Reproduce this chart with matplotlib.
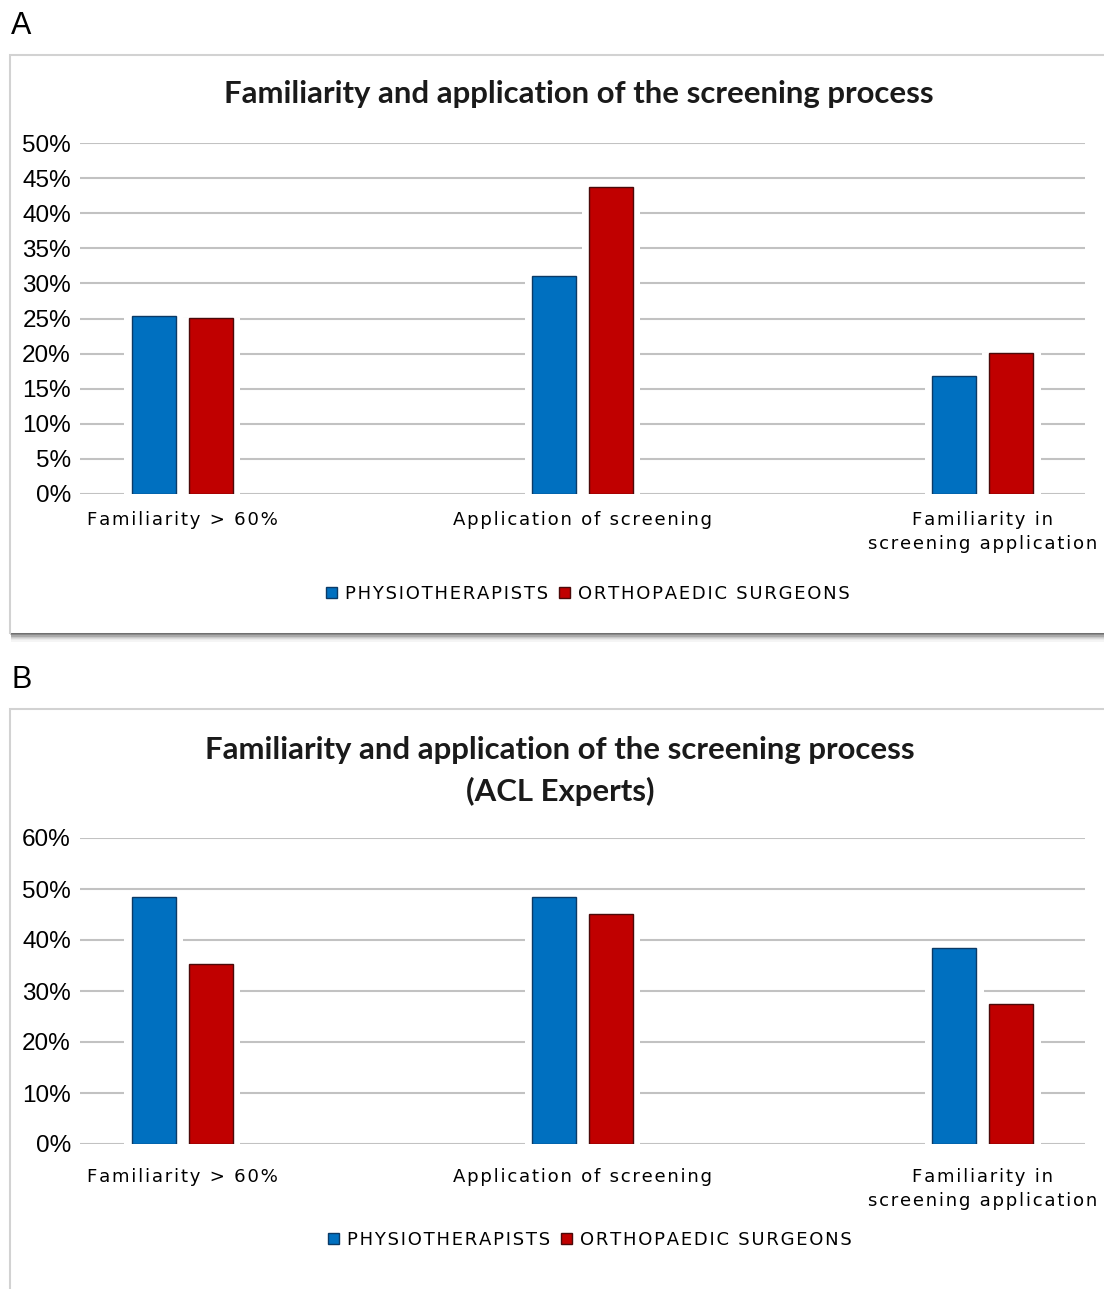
import matplotlib.pyplot as plt
from matplotlib.lines import Line2D
from matplotlib.patches import Rectangle, Patch

# valores lidos por grupo (percentual)
categorias = ["Familiarity > 60%", "Application of screening", "Familiarity in\nscreening application"]
series = ["PHYSIOTHERAPISTS", "ORTHOPAEDIC SURGEONS"]
fisio_a = [25.4, 31.0, 16.8]
orto_a = [25.1, 43.8, 20.1]
fisio_b = [48.4, 48.4, 38.4]
orto_b = [35.3, 45.1, 27.5]
ticks_a = [0, 5, 10, 15, 20, 25, 30, 35, 40, 45, 50]
ticks_b = [0, 10, 20, 30, 40, 50, 60]

titulo_a = "Familiarity and application of the screening process"
titulo_b = "Familiarity and application of the screening process\n(ACL Experts)"

W, H = 1104, 1289
AZUL, VERMELHO = "#0070c0", "#c00000"
BORDAS = ["#0b3a66", "#4a0a0a"]


def fx(px):
    return px / W


def fy(py):
    return 1 - py / H


def espacar(txt):
    # letras afastadas como no rótulo original
    return "\n".join("\u200a".join(linha) for linha in txt.split("\n"))


fig = plt.figure(figsize=(W / 100, H / 100), dpi=100)
fig.patch.set_facecolor("white")


def moldura(topo, base, sombra=True):
    fig.add_artist(Rectangle((fx(10), fy(base)), fx(1120) - fx(10), fy(topo) - fy(base),
                             transform=fig.transFigure, facecolor="none",
                             edgecolor="#d2d2d2", lw=1.5, zorder=0))
    if sombra:
        cores = ["#6e6e6e", "#8a8a8a", "#aaaaaa", "#c8c8c8", "#dcdcdc", "#ececec", "#f5f5f5"]
        for i, c in enumerate(cores):
            y = fy(base + i * 1.2)
            fig.add_artist(Line2D([fx(12), 1], [y, y], transform=fig.transFigure,
                                  color=c, lw=1.4, zorder=0))


def painel(topo_px, zero_px, ymax, ticks, fisio, orto, pad_x, leg_x, leg_y):
    ax = fig.add_axes([fx(80), fy(zero_px), fx(1085) - fx(80), fy(topo_px) - fy(zero_px)])
    x = list(range(len(categorias)))
    largura = 0.11
    desloc = 0.071
    for vals, d in ((fisio, -desloc), (orto, desloc)):
        ax.bar([i + d for i in x], vals, width=largura + 0.036, color="white", zorder=2)
    ax.bar([i - desloc for i in x], fisio, width=largura, color=AZUL,
           edgecolor=BORDAS[0], lw=1.0, zorder=3)
    ax.bar([i + desloc for i in x], orto, width=largura, color=VERMELHO,
           edgecolor=BORDAS[1], lw=1.0, zorder=3)
    ax.set_xlim(-0.255, 2.255)
    ax.set_ylim(0, ymax)
    ax.set_yticks(ticks)
    ax.set_yticklabels([f"{t}%" for t in ticks], fontfamily="Liberation Sans", fontsize=17.5)
    ax.set_xticks(x)
    ax.set_xticklabels([espacar(c) for c in categorias], fontsize=13.1, linespacing=1.38,
                       va="top")
    ax.tick_params(axis="y", length=0, pad=6.5)
    ax.tick_params(axis="x", length=0, pad=pad_x)
    for s in ax.spines.values():
        s.set_visible(False)
    ax.grid(axis="y", color="#c2c2c2", lw=1.5)
    ax.set_axisbelow(True)
    alcas = [Patch(facecolor=AZUL, edgecolor=BORDAS[0]), Patch(facecolor=VERMELHO, edgecolor=BORDAS[1])]
    ax.legend(alcas, [espacar(s) for s in series], loc="center",
              bbox_to_anchor=(fx(leg_x), fy(leg_y)), bbox_transform=fig.transFigure,
              ncol=2, frameon=False, fontsize=13, handlelength=0.6, handleheight=0.6,
              handletextpad=0.45, columnspacing=0.6)
    return ax


# painel A
moldura(55, 634)
fig.text(fx(11), fy(26), "A", fontfamily="Liberation Sans", fontsize=22, va="center", ha="left")
fig.text(fx(579), fy(94), titulo_a, fontfamily="Lato", fontweight="bold", fontsize=22.4,
         ha="center", va="center", color="#1a1a1a")
painel(143, 494, 50, ticks_a, fisio_a, orto_a, 12.5, 588, 594)

# painel B
moldura(709, 1300, sombra=False)
fig.text(fx(12), fy(680), "B", fontfamily="Liberation Sans", fontsize=22, va="center", ha="left")
fig.text(fx(560), fy(771), titulo_b, fontfamily="Lato", fontweight="bold", fontsize=22.4,
         ha="center", va="center", color="#1a1a1a", linespacing=1.55)
painel(838, 1144, 60, ticks_b, fisio_b, orto_b, 17.5, 590, 1240)

fig.savefig("out.png", dpi=100)
